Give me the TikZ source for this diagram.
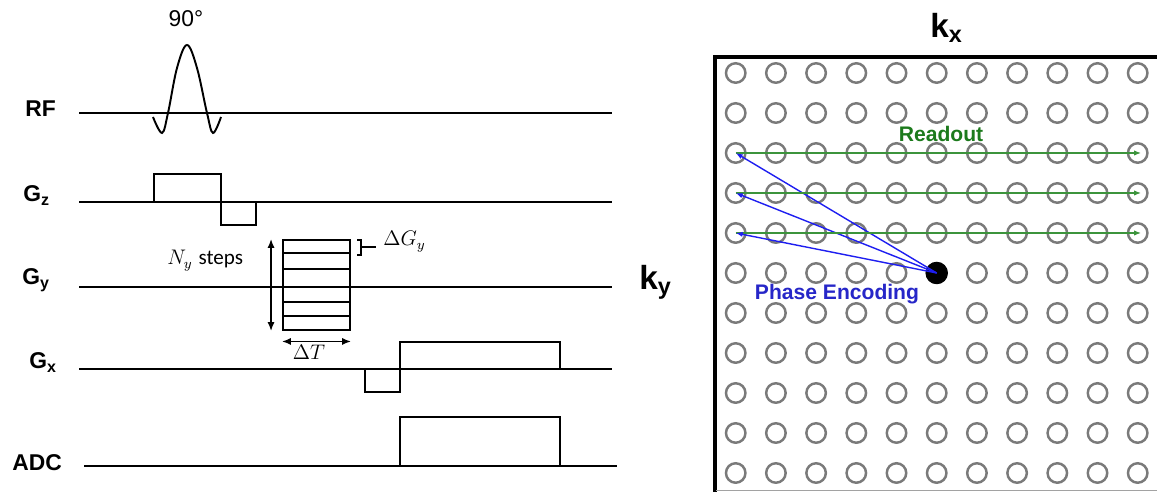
\documentclass[tikz,border=0pt]{standalone}
\usepackage{fontspec}
\setmainfont{Liberation Sans}
\newfontfamily\stepsfont{Carlito}
\usetikzlibrary{arrows.meta,positioning}
\definecolor{kgray}{HTML}{7A7A7A}
\definecolor{rogreen}{HTML}{1C7A1C}
\definecolor{roline}{HTML}{3C943C}
\definecolor{peblue}{HTML}{2626C8}
\definecolor{peline}{HTML}{1E1EF0}

\begin{document}
\begin{tikzpicture}[x=0.02cm,y=-0.02cm,>=Latex]
        \tikzset{chan/.style={anchor=base west,inner sep=0pt,font=\fontsize{13}{15}\selectfont\bfseries},
          wave/.style={line width=1.1pt,line join=miter},
          kpt/.style={circle,draw=kgray,line width=1.4pt,minimum size=0.39cm,inner sep=0pt},
          dim/.style={<->,line width=0.8pt,>={Latex[length=5pt,width=4pt]}}}
        \useasboundingbox (0,0) rectangle (1157,492);
        % pulse sequence
        \node[chan] (rf) at (25,117) {RF};
        \node[chan] (gz) at (23,202) {G\textsubscript{z}};
        \node[chan] (gy) at (22,285) {G\textsubscript{y}};
        \node[chan] (gx) at (29,369) {G\textsubscript{x}};
        \node[chan] (adc) at (12,471) {ADC};
        \node[anchor=base,inner sep=0pt,font=\fontsize{13}{15}\selectfont] (flip) at (186,27) {90°};
        \draw[wave] (79,113) -- (612,113);
        \draw[wave] (79,202) -- (612,202);
        \draw[wave] (79,287) -- (612,287);
        \draw[wave] (79,369) -- (612,369);
        \draw[wave] (84,466) -- (617,466);
        \draw[wave] plot[smooth,tension=0.6] coordinates {(153,117) (162,133) (168,113) (177,68) (187,45) (197,68) (207,113) (213,133) (221,117)};
        \draw[wave] (154,202) -- (154,174) -- (221,174) -- (221,225) -- (256,225) -- (256,202);
        \node[draw,line width=1.1pt,minimum width=1.34cm,minimum height=1.8cm,inner sep=0pt] (stack) at (316.5,285) {};
        \foreach \yy in {253,269,302,316} \draw[wave] (283,\yy) -- (350,\yy);
        \draw[dim] ([xshift=-0.22cm]stack.north west) -- ([xshift=-0.22cm]stack.south west);
        \draw[dim] ([yshift=-0.21cm]stack.south west) -- ([yshift=-0.21cm]stack.south east);
        \draw[line width=1.1pt] (357,240) -- (361,240) -- (361,255) -- (357,255);
        \draw[line width=1.1pt] (361,247) -- (376,247);
        \node[anchor=base west,inner sep=0pt,font=\fontsize{12}{14}\selectfont] (dgy) at (383,246) {$\Delta G_y$};
        \node[anchor=base,inner sep=0pt,font=\fontsize{12}{14}\selectfont] (dt) at (309,360) {$\Delta T$};
        \node[anchor=base west,inner sep=0pt,font=\fontsize{12}{14}\selectfont] (ny) at (167,265) {$N_y$ {\stepsfont steps}};
        \draw[wave] (365,369) -- (365,392) -- (400,392) -- (400,342) -- (560,342) -- (560,369);
        \draw[wave] (400,466) -- (400,417) -- (560,417) -- (560,466);
        % k-space
        \node[anchor=base west,inner sep=0pt,font=\fontsize{19}{21}\selectfont\bfseries] (kx) at (930,38) {k\textsubscript{x}};
        \node[anchor=base west,inner sep=0pt,font=\fontsize{19}{21}\selectfont\bfseries] (ky) at (639,290) {k\textsubscript{y}};
        \draw[line width=2.3pt] (714.7,492) -- (714.7,56.7) -- (1157,56.7);
        \draw[kgray!70,line width=0.8pt] (716,490.5) -- (1157,490.5);
        \foreach \i in {0,...,10}
          \foreach \j in {0,...,10}
            \node[kpt] (k-\i-\j) at (735.7+40.2*\i,73+40*\j) {};
        \node[circle,fill=black,minimum size=0.45cm,inner sep=0pt] (k0) at (k-5-5) {};
        \foreach \j in {2,3,4} {
          \draw[roline,line width=0.8pt,-{Latex[length=4pt,width=3pt]}] (k-0-\j.center) -- ([xshift=2pt]k-10-\j.center);
          \draw[peline,line width=0.8pt,-{Latex[length=4pt,width=3pt]}] (k0.center) -- (k-0-\j.center);
        }
        \node[text=rogreen,font=\fontsize{12}{14}\selectfont\bfseries] (ro) at (941,134) {Readout};
        \node[text=peblue,font=\fontsize{12}{14}\selectfont\bfseries] (pe) at (837,294) {Phase Encoding};
      \end{tikzpicture}
\end{document}
